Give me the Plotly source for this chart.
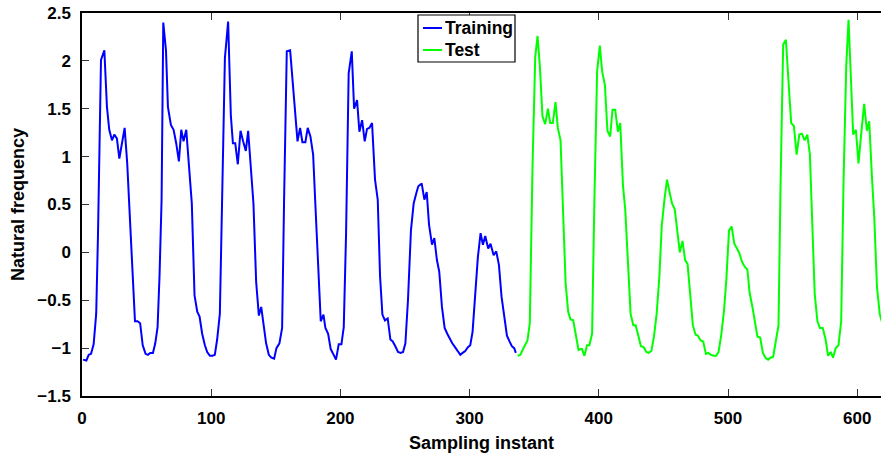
import plotly.graph_objects as go

# ---- data ----
train_x = [0.8, 3.4, 5.2, 7.0, 9.0, 11.0, 12.4, 14.7, 17.3, 19.3, 21.1, 23.2, 25.0, 27.0, 28.9, 30.9, 33.0,
           35.0, 37.4, 39.2, 41.0, 43.0, 45.0, 47.0, 49.2, 51.0, 52.8, 54.9, 56.7, 58.5, 60.0, 61.6, 62.9,
           65.0, 66.5, 68.8, 70.9, 72.9, 75.0, 76.8, 78.6, 80.7, 82.7, 85.0, 87.1, 89.2, 91.0, 93.0, 95.1,
           96.9, 99.0, 101.0, 102.8, 104.6, 106.7, 108.5, 110.6, 113.1, 115.2, 116.8, 118.6, 120.6, 122.7,
           124.7, 126.8, 128.6, 130.7, 132.7, 134.8, 136.9, 138.7, 140.5, 142.5, 144.6, 146.6, 148.7, 150.5,
           152.8, 154.9, 156.4, 158.5, 161.1, 163.1, 164.9, 166.8, 168.8, 170.6, 172.9, 174.7, 176.8, 178.9,
           180.7, 182.7, 184.8, 186.9, 188.4, 190.5, 192.5, 194.8, 196.6, 198.7, 200.8, 202.6, 204.4, 206.4,
           208.8, 210.6, 212.9, 214.7, 216.8, 218.8, 220.6, 222.4, 224.5, 226.8, 228.9, 230.7, 232.5, 234.5,
           236.6, 238.7, 240.5, 242.5, 244.6, 246.6, 248.5, 250.3, 252.3, 254.6, 256.7, 258.8, 260.3, 262.9,
           265.0, 266.8, 268.6, 270.9, 272.7, 274.7, 276.5, 278.6, 280.7, 282.7, 284.5, 286.6, 288.7, 290.7,
           292.8, 294.6, 296.6, 298.7, 300.5, 302.3, 304.4, 306.4, 308.5, 310.3, 312.1, 314.4, 316.2, 318.6,
           320.6, 322.7, 324.7, 326.8, 328.9, 330.9, 332.7, 334.5, 335.8]
train_y = [-1.12, -1.13, -1.07, -1.06, -0.96, -0.64, 0.20, 2.01, 2.11, 1.52, 1.28, 1.17, 1.23, 1.19, 0.98, 1.14, 1.30,
           0.93, 0.27, -0.36, -0.72, -0.72, -0.74, -0.97, -1.06, -1.07, -1.05, -1.05, -0.95, -0.78, -0.25, 0.55, 2.40,
           2.11, 1.52, 1.33, 1.28, 1.14, 0.95, 1.28, 1.16, 1.28, 0.90, 0.51, -0.45, -0.62, -0.67, -0.85, -0.97,
           -1.04, -1.08, -1.08, -1.07, -0.91, -0.64, 0.61, 2.03, 2.41, 1.43, 1.14, 1.14, 0.92, 1.27,
           1.16, 1.06, 1.27, 0.82, 0.51, -0.31, -0.66, -0.57, -0.78, -0.95, -1.07, -1.10, -1.11, -1.00,
           -0.95, -0.79, 0.54, 2.10, 2.11, 1.77, 1.54, 1.16, 1.30, 1.15, 1.15, 1.30, 1.21, 1.02,
           0.48, -0.15, -0.72, -0.65, -0.79, -0.85, -1.01, -1.07, -1.12, -0.96, -0.96, -0.78, 0.20, 1.87,
           2.10, 1.50, 1.59, 1.26, 1.38, 1.16, 1.29, 1.30, 1.35, 0.76, 0.55, -0.25, -0.65, -0.71,
           -0.69, -0.91, -0.93, -0.98, -1.04, -1.05, -1.04, -0.95, -0.50, 0.23, 0.51, 0.62, 0.69, 0.72,
           0.55, 0.63, 0.29, 0.08, 0.15, -0.08, -0.20, -0.57, -0.79, -0.85, -0.90, -0.95, -0.99, -1.03,
           -1.07, -1.05, -1.03, -0.99, -0.97, -0.83, -0.43, -0.05, 0.20, 0.08, 0.17, 0.04, 0.09, -0.03,
           0.01, -0.13, -0.46, -0.69, -0.87, -0.93, -0.98, -1.00, -1.05]

test_x = [337.1, 339.2, 341.0, 342.8, 344.8, 346.6, 348.7, 350.8, 352.6, 354.4, 356.4, 358.5, 360.6, 362.4,
          364.4, 366.5, 368.3, 370.4, 372.2, 374.3, 376.3, 378.1, 380.2, 382.2, 384.3, 385.8, 387.0, 388.9,
          390.9, 392.7, 394.8, 396.6, 398.7, 400.8, 402.6, 404.7, 406.7, 408.8, 410.6, 412.7, 414.8, 416.6,
          418.7, 420.5, 422.5, 424.6, 426.7, 428.5, 430.6, 432.6, 434.7, 436.8, 438.6, 440.7, 442.7, 444.8,
          446.9, 448.7, 450.8, 452.8, 454.9, 456.7, 458.8, 460.9, 462.7, 464.8, 466.8, 468.7, 470.7, 472.8,
          474.9, 476.7, 478.8, 480.8, 482.9, 484.7, 486.8, 488.9, 490.9, 492.7, 494.8, 496.9, 498.7, 500.8,
          502.8, 504.9, 507.0, 508.8, 510.9, 512.9, 515.0, 516.8, 518.9, 521.0, 522.8, 524.9, 527.0, 529.0,
          531.1, 532.9, 535.0, 537.1, 539.1, 540.7, 542.7, 544.8, 546.9, 548.9, 551.0, 553.1, 555.2, 557.2,
          559.3, 561.4, 563.4, 565.3, 567.1, 569.2, 571.2, 573.3, 575.4, 577.5, 579.5, 581.3, 583.4, 585.5,
          587.6, 589.4, 591.5, 593.3, 595.1, 596.9, 599.0, 601.0, 603.1, 605.4, 607.5, 609.3, 611.4, 613.2,
          615.3, 617.4, 619.0, 621.0]
test_y = [-1.08, -1.07, -1.02, -0.97, -0.92, -0.74, 0.90, 2.04, 2.26, 1.94, 1.42, 1.34, 1.50, 1.35,
          1.35, 1.57, 1.30, 1.17, 0.48, -0.32, -0.62, -0.70, -0.71, -0.88, -1.02, -1.01, -1.01, -1.08,
          -0.97, -0.97, -0.85, 0.55, 1.89, 2.16, 1.89, 1.75, 1.27, 1.21, 1.49, 1.49, 1.26, 1.35,
          0.70, 0.44, -0.15, -0.64, -0.76, -0.76, -0.87, -0.98, -0.99, -1.04, -1.05, -1.03, -0.88, -0.64,
          -0.25, 0.27, 0.55, 0.76, 0.62, 0.51, 0.45, 0.20, 0.00, 0.12, -0.08, -0.12, -0.43, -0.76,
          -0.86, -0.87, -0.92, -0.93, -1.06, -1.05, -1.07, -1.08, -1.08, -1.04, -0.86, -0.61, -0.29, 0.23,
          0.27, 0.09, 0.04, -0.01, -0.10, -0.15, -0.18, -0.43, -0.57, -0.76, -0.88, -0.89, -1.05, -1.10,
          -1.12, -1.10, -1.09, -0.92, -0.76, 0.72, 2.17, 2.22, 1.74, 1.35, 1.32, 1.02, 1.23, 1.24,
          1.17, 1.23, 1.02, 0.20, -0.43, -0.72, -0.79, -0.79, -0.90, -1.08, -1.04, -1.10, -1.00, -0.97,
          -0.72, 0.72, 1.94, 2.43, 1.87, 1.23, 1.28, 0.93, 1.24, 1.55, 1.27, 1.37, 0.79, 0.37,
          -0.36, -0.64, -0.72, -0.78]

x_ticks = [0, 100, 200, 300, 400, 500, 600]
y_ticks = [-1.5, -1, -0.5, 0, 0.5, 1, 1.5, 2, 2.5]
y_tick_text = ["\u22121.5", "\u22121", "\u22120.5", "0", "0.5", "1", "1.5", "2", "2.5"]
series_names = ["Training", "Test"]
series_colors = ["#0000ff", "#00ff00"]

FONT = "Liberation Sans"
W, H = 881, 456
ML, MR, MT, MB = 82, 0, 13, 60
PW, PH = W - ML - MR, H - MT - MB

fig = go.Figure()
fig.add_trace(go.Scatter(x=train_x, y=train_y, mode="lines", name=series_names[0],
                         line=dict(color=series_colors[0], width=2), showlegend=False))
fig.add_trace(go.Scatter(x=test_x, y=test_y, mode="lines", name=series_names[1],
                         line=dict(color=series_colors[1], width=2), showlegend=False))

def px2paper(px, py):
    return (px - ML) / PW, (H - MB - py) / PH

# custom MATLAB-style legend
bx0, by0 = px2paper(418, 15)
bx1, by1 = px2paper(515, 62)
shapes = [dict(type="rect", xref="paper", yref="paper", x0=bx0, y0=by1, x1=bx1, y1=by0,
               line=dict(color="black", width=1.2), fillcolor="white", layer="above")]
annotations = []
for i, (nm, col) in enumerate(zip(series_names, series_colors)):
    yy = 28 + 22 * i
    lx0, ly = px2paper(423, yy)
    lx1, _ = px2paper(442, yy)
    shapes.append(dict(type="line", xref="paper", yref="paper", x0=lx0, x1=lx1, y0=ly, y1=ly,
                       line=dict(color=col, width=2), layer="above"))
    tx, _ = px2paper(443, yy)
    annotations.append(dict(x=tx, y=ly, xref="paper", yref="paper", text="<b>%s</b>" % nm,
                            showarrow=False, xanchor="left", yanchor="middle",
                            font=dict(family=FONT, size=17.5, color="black")))

fig.update_layout(
    width=W, height=H,
    margin=dict(l=ML, r=MR, t=MT, b=MB, pad=0),
    paper_bgcolor="white", plot_bgcolor="white",
    font=dict(family=FONT, size=17, color="black"),
    shapes=shapes, annotations=annotations,
    showlegend=False,
)
fig.update_xaxes(
    range=[0, PW / 1.292], tickmode="array", tickvals=x_ticks,
    ticktext=["<b>%d</b>" % v for v in x_ticks],
    ticks="inside", ticklen=7, tickwidth=1, tickcolor="#333",
    showline=True, linecolor="black", linewidth=1.5, mirror="ticks",
    showgrid=False, zeroline=False, ticklabelstandoff=6,
    title=dict(text="<b>Sampling instant</b>", font=dict(family=FONT, size=18), standoff=9),
    automargin=False,
)
fig.update_yaxes(
    range=[-1.5, 2.5], tickmode="array", tickvals=y_ticks,
    ticktext=["<b>%s</b>" % t for t in y_tick_text],
    ticks="inside", ticklen=7, tickwidth=1, tickcolor="#333",
    showline=True, linecolor="black", linewidth=1.5, mirror=False,
    showgrid=False, zeroline=False, ticklabelstandoff=6,
    title=dict(text="<b>Natural frequency</b>", font=dict(family=FONT, size=18), standoff=8),
    automargin=False,
)
fig.write_html("out.html")
